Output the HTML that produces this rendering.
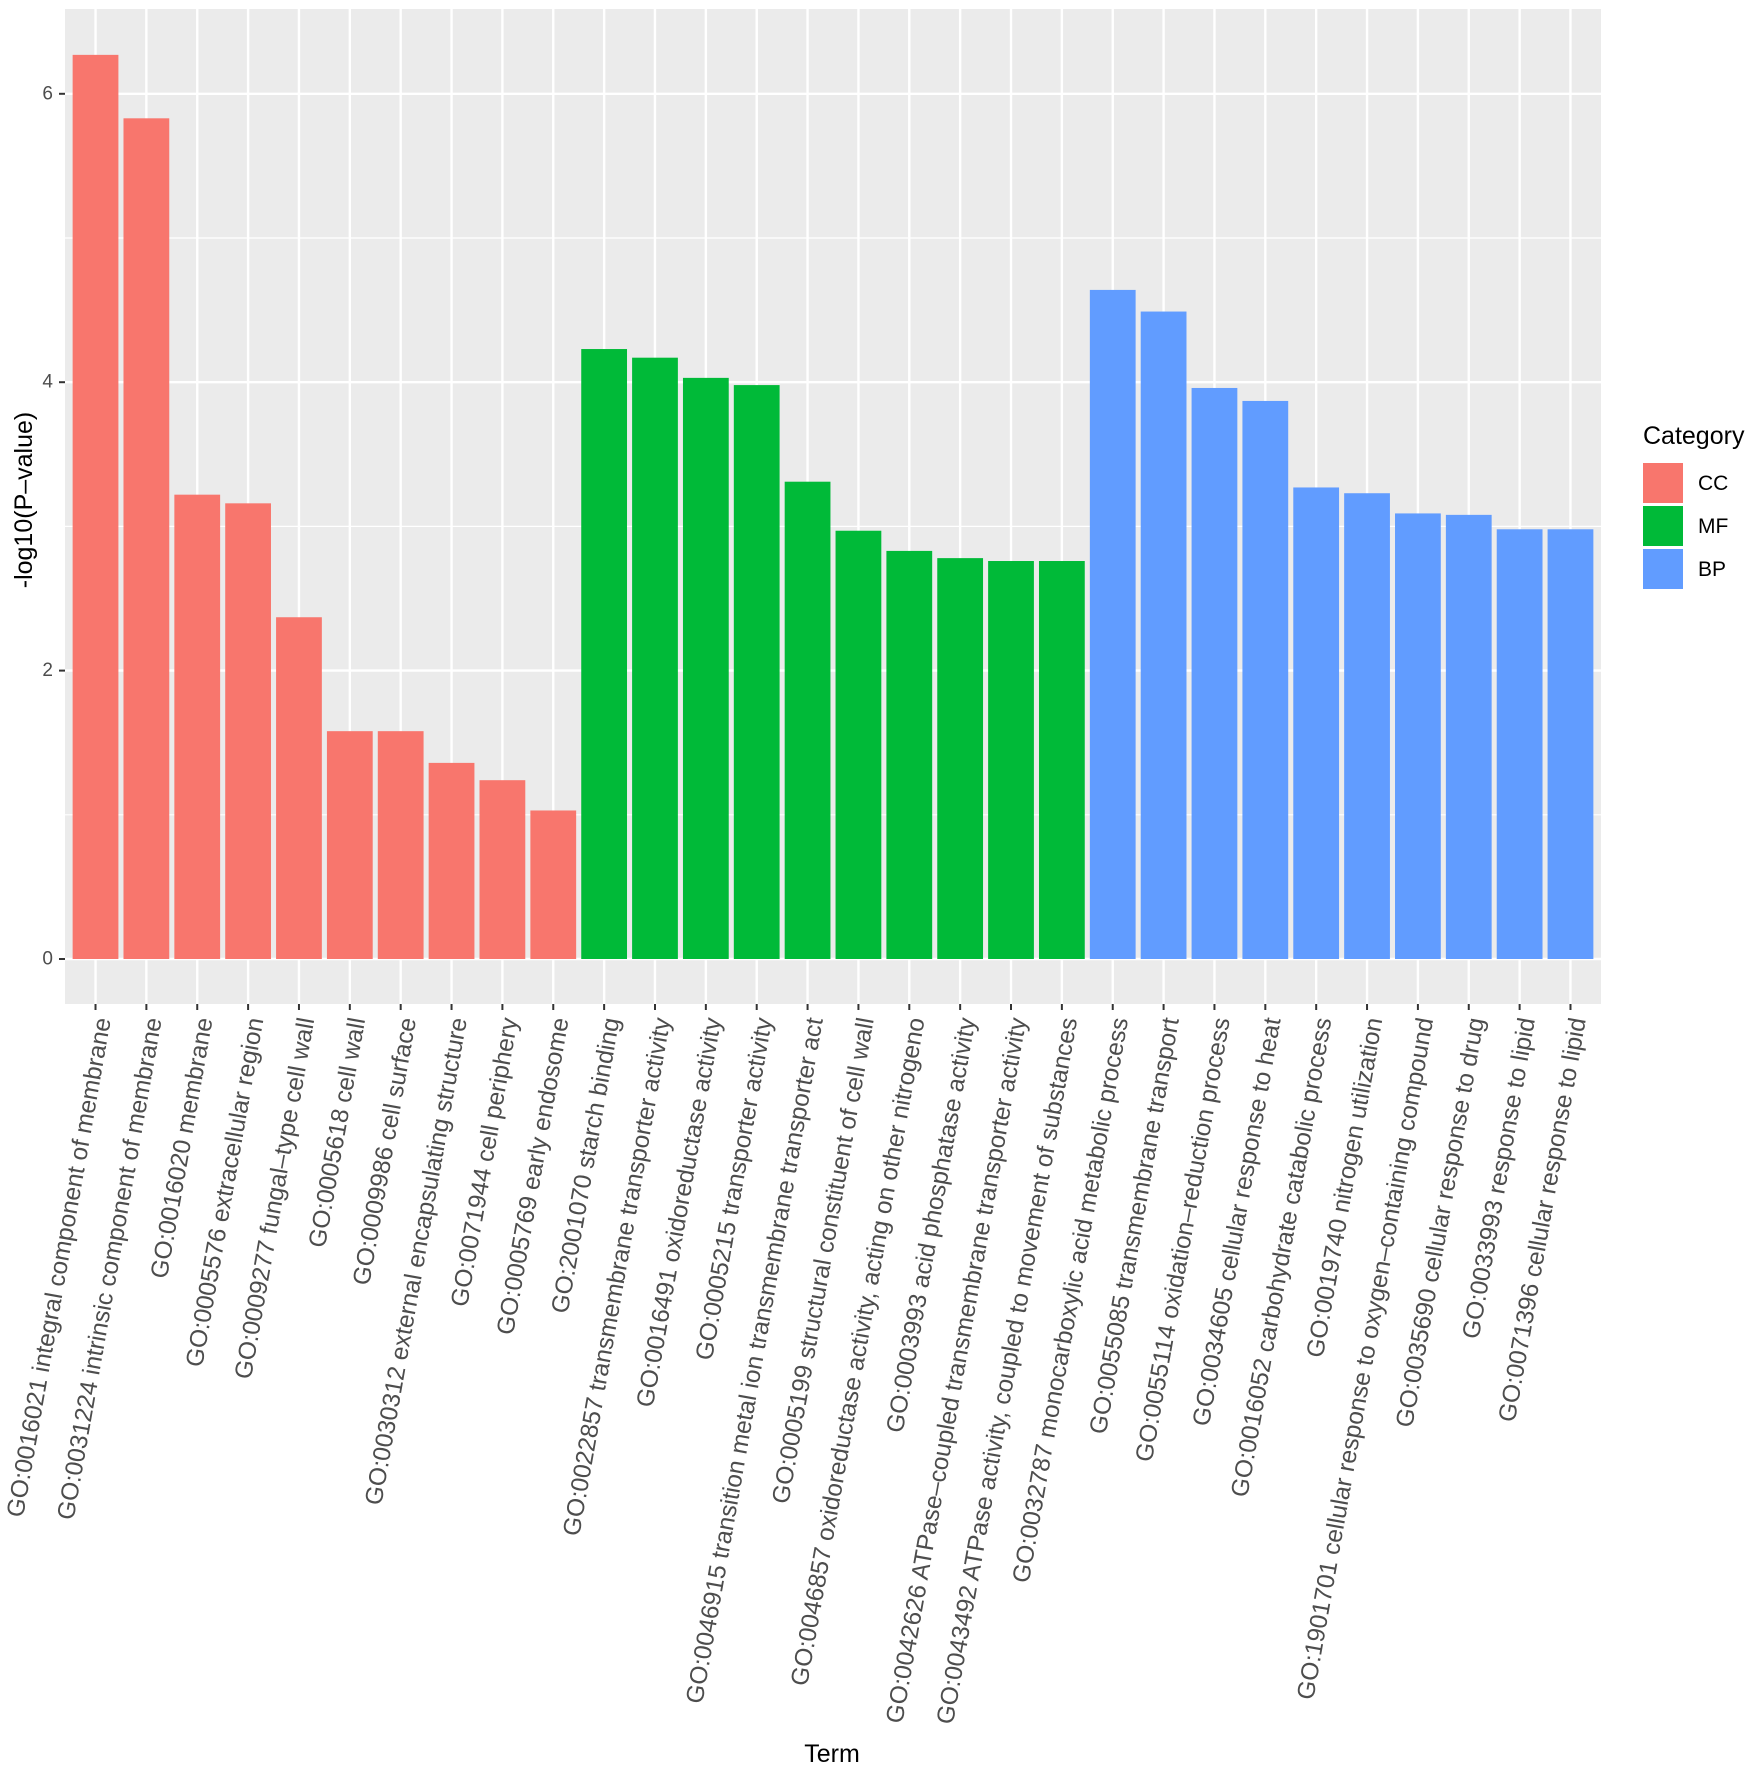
<!DOCTYPE html>
<html><head><meta charset="utf-8"><style>
body{margin:0;background:#fff}
svg{display:block;font-family:"Liberation Sans",Arial,sans-serif}
</style></head><body>
<svg id="chart" width="1762" height="1772" viewBox="0 0 1762 1772">
<rect x="0" y="0" width="1762" height="1772" fill="#fff"/>
<g id="panel"></g>
<g id="xlabels"></g>
<g id="ylabels"></g>
<text x="24" y="500" transform="rotate(-90 24 500)" text-anchor="middle" dominant-baseline="central" font-size="25" fill="#000">-log10(P–value)</text>
<text x="832" y="1762" text-anchor="middle" font-size="25" fill="#000">Term</text>
<g>
<text x="1643" y="444" font-size="25" fill="#000">Category</text>
<rect x="1643" y="463" width="40" height="40" fill="#F8766D"/>
<text x="1698" y="490" font-size="21" fill="#000">CC</text>
<rect x="1643" y="506" width="40" height="40" fill="#00BA38"/>
<text x="1698" y="533" font-size="21" fill="#000">MF</text>
<rect x="1643" y="549" width="40" height="40" fill="#619CFF"/>
<text x="1698" y="576" font-size="21" fill="#000">BP</text>
</g>
</svg>
<script>
const terms = ["GO:0016021 integral component of membrane","GO:0031224 intrinsic component of membrane","GO:0016020 membrane","GO:0005576 extracellular region","GO:0009277 fungal–type cell wall","GO:0005618 cell wall","GO:0009986 cell surface","GO:0030312 external encapsulating structure","GO:0071944 cell periphery","GO:0005769 early endosome","GO:2001070 starch binding","GO:0022857 transmembrane transporter activity","GO:0016491 oxidoreductase activity","GO:0005215 transporter activity","GO:0046915 transition metal ion transmembrane transporter act","GO:0005199 structural constituent of cell wall","GO:0046857 oxidoreductase activity, acting on other nitrogeno","GO:0003993 acid phosphatase activity","GO:0042626 ATPase–coupled transmembrane transporter activity","GO:0043492 ATPase activity, coupled to movement of substances","GO:0032787 monocarboxylic acid metabolic process","GO:0055085 transmembrane transport","GO:0055114 oxidation–reduction process","GO:0034605 cellular response to heat","GO:0016052 carbohydrate catabolic process","GO:0019740 nitrogen utilization","GO:1901701 cellular response to oxygen–containing compound","GO:0035690 cellular response to drug","GO:0033993 response to lipid","GO:0071396 cellular response to lipid"];
const values = [6.27,5.83,3.22,3.16,2.37,1.58,1.58,1.36,1.24,1.03,4.23,4.17,4.03,3.98,3.31,2.97,2.83,2.78,2.76,2.76,4.64,4.49,3.96,3.87,3.27,3.23,3.09,3.08,2.98,2.98];
const categories = ["CC","CC","CC","CC","CC","CC","CC","CC","CC","CC","MF","MF","MF","MF","MF","MF","MF","MF","MF","MF","BP","BP","BP","BP","BP","BP","BP","BP","BP","BP"];
const yTicks = [0,2,4,6];
const yMinor = [1,3,5];

const colors = {CC:"#F8766D", MF:"#00BA38", BP:"#619CFF"};
const NS = "http://www.w3.org/2000/svg";
const PL = 65, PR = 1601, PT = 9, PB = 1004;
const Y0 = 959, UNIT = 144.2;
const step = (PR - PL) / (terms.length + 0.2);
function xPos(i){ return PL + step * (0.6 + i); }
function yPos(v){ return Y0 - v * UNIT; }
function mk(tag, attrs, parent){ const e = document.createElementNS(NS, tag); for (const k in attrs) e.setAttribute(k, attrs[k]); parent.appendChild(e); return e; }

const panel = document.getElementById('panel');
const bg = mk('rect', {x:PL, y:PT, width:PR-PL, height:PB-PT, fill:'#EBEBEB'}, panel);


yMinor.forEach(v => {
  const l = mk('line', {x1:PL, x2:PR, y1:yPos(v), y2:yPos(v), stroke:'#fff', 'stroke-width':1.2}, panel);
  
  
});
yTicks.forEach(v => {
  const l = mk('line', {x1:PL, x2:PR, y1:yPos(v), y2:yPos(v), stroke:'#fff', 'stroke-width':2.4}, panel);
  
  
});
terms.forEach((t, i) => {
  const l = mk('line', {x1:xPos(i), x2:xPos(i), y1:PT, y2:PB, stroke:'#fff', 'stroke-width':2.4}, panel);
  
  
});
const bw = step * 0.9;
values.forEach((v, i) => {
  const r = mk('rect', {x:xPos(i) - bw/2, y:yPos(v), width:bw, height:yPos(0) - yPos(v), fill:colors[categories[i]]}, panel);
  
  
});

const yl = document.getElementById('ylabels');
yTicks.forEach(v => {
  const t = mk('text', {x:PL - 12, y:yPos(v), 'text-anchor':'end', 'dominant-baseline':'central', 'font-size':19, fill:'#4D4D4D'}, yl);
  t.textContent = String(v);
  
  
  const tk = mk('line', {x1:PL - 6, x2:PL, y1:yPos(v), y2:yPos(v), stroke:'#333', 'stroke-width':2}, yl);
  
  
});

const xl = document.getElementById('xlabels');
terms.forEach((t, i) => {
  const x = xPos(i);
  const tk = mk('line', {x1:x, x2:x, y1:PB, y2:PB + 6, stroke:'#333', 'stroke-width':2}, xl);
  
  
  const ax = x + 8, ay = PB + 14;
  const e = mk('text', {x:ax, y:ay, 'text-anchor':'end', 'dominant-baseline':'central', 'font-size':24.5, fill:'#4D4D4D', transform:'rotate(-80 ' + ax + ' ' + ay + ')'}, xl);
  e.textContent = t;
  
  
});
</script>
</body></html>
